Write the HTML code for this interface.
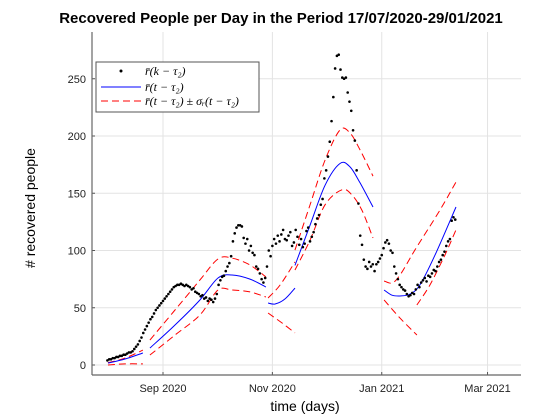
<!DOCTYPE html>
<html><head><meta charset="utf-8"><style>
body{margin:0;background:#fff}
svg{display:block;font-family:"Liberation Sans",sans-serif}
</style></head><body>
<svg id="chart" width="560" height="420" viewBox="0 0 560 420">
<text x="281" y="23" text-anchor="middle" font-size="15" font-weight="bold">Recovered People per Day in the Period 17/07/2020-29/01/2021</text>
<g id="grid"></g>
<g id="axes"></g>
<g id="series"></g>
<text x="305" y="411" text-anchor="middle" font-size="14">time (days)</text>
<text transform="translate(35,208) rotate(-90)" text-anchor="middle" font-size="14"># recovered people</text>
<g>
<rect x="96" y="62" width="163" height="50" fill="#fff" stroke="#555" stroke-width="1"/>
<circle cx="121" cy="71" r="1.5" fill="#000"/>
<text x="145" y="75" font-size="12" font-family="Liberation Serif,serif" font-style="italic">r̄(k − τ₂)</text>
<line x1="101" y1="87" x2="141" y2="87" stroke="#00f"/>
<text x="145" y="91" font-size="12" font-family="Liberation Serif,serif" font-style="italic">r̄(t − τ₂)</text>
<line x1="101" y1="101" x2="141" y2="101" stroke="#f00" stroke-dasharray="7,4"/>
<text x="145" y="105" font-size="12" font-family="Liberation Serif,serif" font-style="italic">r̄(t − τ₂) ± σᵣ(t − τ₂)</text>
</g>
</svg>
<script>
// days relative to 1 Sep 2020
const xTickDays=[0,61,122,181];
const xTickLabels=["Sep 2020","Nov 2020","Jan 2021","Mar 2021"];
const yTicks=[0,50,100,150,200,250];
const obsStartDay=-31;
const obsValues=[4,5,5,6,6,7,7,8,8,9,9,10,11,11,12,14,16,18,21,24,28,31,34,37,40,42,45,48,50,52,54,56,58,60,62,64,66,68,69,70,70,71,70,69,70,69,68,66,67,64,63,62,60,61,58,59,56,58,57,55,58,62,70,74,77,78,82,86,89,95,108,115,120,122,122,121,111,106,110,100,104,98,96,86,84,80,75,72,76,86,100,95,104,110,106,113,108,114,118,110,109,113,116,104,107,118,112,105,110,103,106,117,120,108,112,116,123,128,131,140,145,163,170,182,195,213,234,259,270,271,258,251,250,251,238,230,222,205,196,170,141,113,105,92,86,84,90,86,88,82,88,90,93,96,102,107,109,106,100,98,86,80,75,70,68,66,65,62,60,61,63,62,66,70,68,72,74,76,73,78,77,80,83,82,86,90,92,96,99,104,108,110,126,129,127];
const meanDays=[[-30.7,-21.2,-11.2],[-7.3,6.7,20.6,30.7,38.5,48.5,57.4],[58.6,62.5,68,73.6],[73.6,82,90.4,98.7,104.3,109.9,117.1],[123.3,127.7,132.2,137.8,143.3,151.7,163.4]];
const meanVals=[[1.7,5.2,10.5],[14.8,34.9,56.8,76,78.6,75,68.1],[54.1,53.3,57.6,67.2],[87,122,157,176,173,159,138],[65.5,61,60.3,62,70,96,138]];
const upperDays=[[-30.7,-21.2,-11.2],[-7.3,6.7,20.6,30.7,38.5,48.5,57.4],[58.6,65.3,73.6],[73.6,82,90.4,98.7,104.3,109.9,117.1],[123.3,127.7,132.2,140.5,154.5,163.4]];
const upperVals=[[2,6,13],[21.8,48,74.2,92.6,93.4,87.3,76.9],[58.5,69.9,90],[100.4,139.7,179,205.2,202.6,187.8,165],[73.4,71.6,78.6,100.4,135.4,159.8]];
const lowerDays=[[-30.7,-21.2,-11.2],[-7.3,6.7,20.6,30.7,38.5,48.5,57.4],[58.6,66.4,73.6],[73.6,82,90.4,99.8,105.4,111,117.1],[123.3,132.2,141.6],[141.6,148.9,157.2,163.4]];
const lowerVals=[[0,1,1],[8.7,26.2,43.7,65.5,65.5,63.8,59.4],[45.4,36.7,28],[83,109,140,153,148.5,135,111],[56.8,41,26.2],[52.4,70,96,118]];

const X=d=>163+d*1.793, Y=v=>365-v*1.145;
const NS="http://www.w3.org/2000/svg";
function mk(tag,parent,attrs){const e=document.createElementNS(NS,tag);for(const k in attrs)e.setAttribute(k,attrs[k]);parent.appendChild(e);return e;}
const grid=document.getElementById('grid'),axes=document.getElementById('axes'),series=document.getElementById('series');
yTicks.forEach(v=>{
 const l=mk('line',grid,{x1:92,x2:521,y1:Y(v),y2:Y(v),stroke:'#e3e3e3','stroke-width':1});
 
 
 const t=mk('text',axes,{x:86,y:Y(v)+4,'text-anchor':'end','font-size':11,fill:'#222'});
 t.textContent=v;
 
 
 const tk=mk('line',axes,{x1:92,x2:95,y1:Y(v),y2:Y(v),stroke:'#555'});
 
 
});
xTickDays.forEach((d,i)=>{
 const l=mk('line',grid,{x1:X(d),x2:X(d),y1:32,y2:375,stroke:'#e3e3e3','stroke-width':1});
 
 
 const t=mk('text',axes,{x:X(d),y:392,'text-anchor':'middle','font-size':11,fill:'#222'});
 t.textContent=xTickLabels[i];
 
 
 const tk=mk('line',axes,{x1:X(d),x2:X(d),y1:375,y2:372,stroke:'#555'});
 
 
});
const ax1=mk('line',axes,{x1:92,x2:521,y1:375,y2:375,stroke:'#666','stroke-width':1.2});


const ax2=mk('line',axes,{x1:92,x2:92,y1:32,y2:375,stroke:'#666','stroke-width':1.2});


function smoothPath(P){
 if(P.length<3) return 'M'+P.map(p=>p.join(',')).join(' L');
 let d='M'+P[0][0]+','+P[0][1];
 for(let i=0;i<P.length-1;i++){
  const p0=P[i-1]||P[i],p1=P[i],p2=P[i+1],p3=P[i+2]||P[i+1];
  const c1=[p1[0]+(p2[0]-p0[0])/6,p1[1]+(p2[1]-p0[1])/6];
  const c2=[p2[0]-(p3[0]-p1[0])/6,p2[1]-(p3[1]-p1[1])/6];
  d+=' C'+c1.map(n=>n.toFixed(1))+' '+c2.map(n=>n.toFixed(1))+' '+p2[0].toFixed(1)+','+p2[1].toFixed(1);
 }
 return d;
}
function drawSet(days,vals,color,dash,name){
 days.forEach((ds,i)=>{
  const P=ds.map((d,j)=>[X(d),Y(vals[i][j])]);
  const p=mk('path',series,{d:smoothPath(P),fill:'none',stroke:color,'stroke-width':1,'stroke-dasharray':dash});
  
  
 });
}
drawSet(upperDays,upperVals,'#f00','7,4','upper-band-line');
drawSet(lowerDays,lowerVals,'#f00','7,4','lower-band-line');
drawSet(meanDays,meanVals,'#00f','none','mean-line');
obsValues.forEach((v,i)=>{
 const c=mk('circle',series,{cx:X(obsStartDay+i),cy:Y(v),r:1.3,fill:'#000'});
 
 
});
</script>
</body></html>
